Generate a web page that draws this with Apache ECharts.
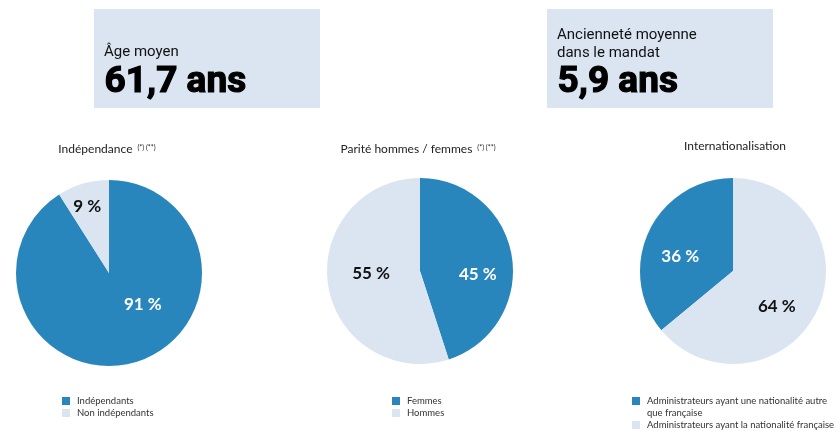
<!DOCTYPE html>
<html><head><meta charset="utf-8">
<script src="https://cdn.jsdelivr.net/npm/echarts@6/dist/echarts.min.js"></script>
<style>html,body{margin:0;padding:0;background:#fff}#c{width:837px;height:431px}</style>
</head><body><div id="c"></div>
<script>
const DARK = '#2886bd', LIGHT = '#dbe5f2';
const kpiLabels = ['Âge moyen', 'Ancienneté moyenne\ndans le mandat'];
const kpiValues = ['61,7 ans', '5,9 ans'];
const pieTitles = ['Indépendance', 'Parité hommes / femmes', 'Internationalisation'];
const pieNotes = ['(*) (**)', '(*) (**)', ''];
const indepCats = ['Indépendants', 'Non indépendants'];
const indepVals = [91, 9];
const pariteCats = ['Femmes', 'Hommes'];
const pariteVals = [45, 55];
const interCats = ['Administrateurs ayant une nationalité autre que française', 'Administrateurs ayant la nationalité française'];
const interVals = [36, 64];

// label nudges (style only)
const labelOffsets = [[[20, -16], [-8, -19]], [[9, 11], [0, -5]], [[-8, 7], [-1, 14]]];

const chart = echarts.init(document.getElementById('c'));
const FONT = 'Lato';
const centers = [[109, 273], [420, 271], [733, 271]];
const legendLeft = [62, 392, 632];
const legendTop = [395, 395, 383];

function pieSeries(cats, vals, i, cw) {
  return {
    type: 'pie', radius: 93, center: centers[i], startAngle: 90, clockwise: cw,
    silent: true, animation: false,
    itemStyle: { borderWidth: 0 },
    label: { show: true, position: 'inside', formatter: '{c} %', fontFamily: FONT, fontWeight: 'bold', fontSize: 17 },
    labelLine: { show: false },
    data: cats.map((n, k) => ({
      name: n, value: vals[k],
      itemStyle: { color: k === 0 ? DARK : LIGHT },
      label: { color: k === 0 ? '#ffffff' : '#111111', offset: labelOffsets[i][k] }
    }))
  };
}

const allCats = [indepCats, pariteCats, interCats];
const titleX = [102, 413, 730];

chart.setOption({
  animation: false,
  title: pieTitles.map((t, i) => ({
    text: pieNotes[i] ? '{a|' + t + '} {b|' + pieNotes[i] + '}' : '{a|' + t + '}',
    left: titleX[i], top: 135, textAlign: 'center',
    textStyle: { rich: {
      a: { fontFamily: FONT, fontSize: 12, color: '#222', fontWeight: 'normal' },
      b: { fontFamily: FONT, fontSize: 7, color: '#222', fontWeight: 'normal', verticalAlign: 'bottom', padding: [0, 0, 7, 0] }
    } }
  })),
  legend: allCats.map((cats, i) => ({
    data: cats,
    orient: 'vertical', left: legendLeft[i], top: legendTop[i], height: 80, padding: 0,
    icon: 'rect', itemWidth: 8, itemHeight: 8, itemGap: 0, selectedMode: false,
    textStyle: { fontFamily: FONT, fontSize: 9.5, color: '#333', lineHeight: 12, padding: [0, 0, 0, 2] },
    formatter: n => n === interCats[0] ? ' \nAdministrateurs ayant une nationalité autre\nque française' : n
  })),
  graphic: [
    { type: 'rect', shape: { x: 94, y: 9, width: 226, height: 99 }, style: { fill: LIGHT }, silent: true },
    { type: 'rect', shape: { x: 547, y: 9, width: 226, height: 99 }, style: { fill: LIGHT }, silent: true },
    { type: 'text', left: 104, top: 45, style: { text: kpiLabels[0], font: '15px Roboto', fill: '#111' } },
    { type: 'text', left: 104, top: 64, style: { text: kpiValues[0], font: 'bold 37px Roboto', fill: '#000', stroke: '#000', lineWidth: 1.2 } },
    { type: 'text', left: 557, top: 26, style: { text: kpiLabels[1], font: '15px Roboto', fill: '#111', lineHeight: 18 } },
    { type: 'text', left: 557, top: 64, style: { text: kpiValues[1], font: 'bold 37px Roboto', fill: '#000', stroke: '#000', lineWidth: 1.2 } }
  ],
  series: [
    pieSeries(indepCats, indepVals, 0, true),
    pieSeries(pariteCats, pariteVals, 1, true),
    pieSeries(interCats, interVals, 2, false)
  ]
});
</script></body></html>
